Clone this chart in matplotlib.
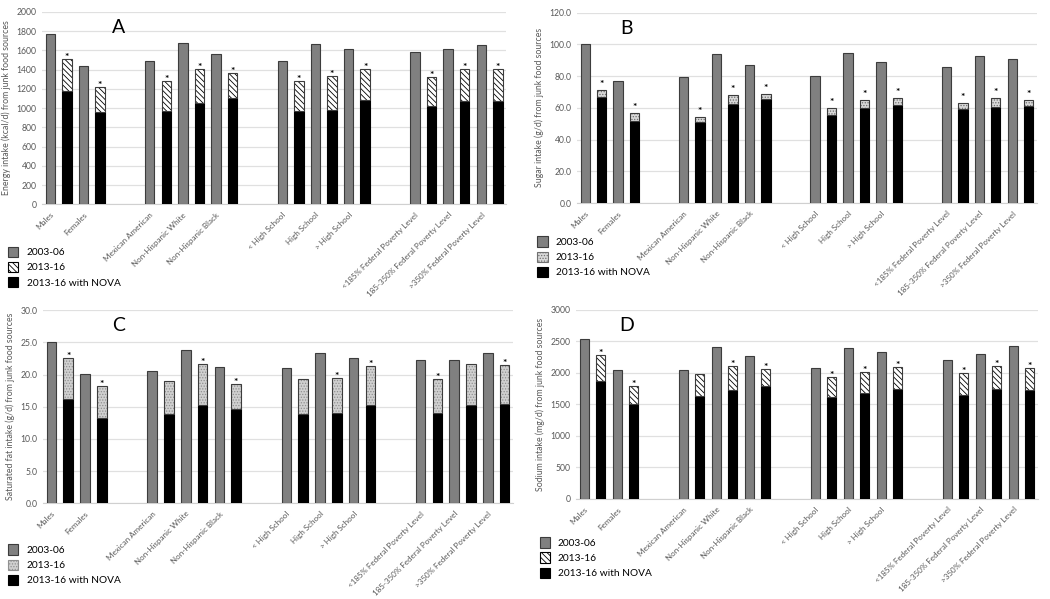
import numpy as np
import matplotlib
matplotlib.use("Agg")
import matplotlib.pyplot as plt
from matplotlib.patches import Patch

plt.rcParams['font.family'] = ['Lato', 'DejaVu Sans']
plt.rcParams['hatch.linewidth'] = 0.6

categories = ["Males", "Females",
              "Mexican American", "Non-Hispanic White", "Non-Hispanic Black",
              "< High School", "High School", "> High School",
              "<185% Federal Poverty Level", "185-350% Federal Poverty Level", ">350% Federal Poverty Level"]
group_sizes = [2, 3, 3, 3]

# panel A: energy (kcal/d)
energy_0306 = [1775, 1435, 1487, 1681, 1560, 1487, 1667, 1615, 1581, 1615, 1653]
energy_1316 = [1508, 1220, 1286, 1407, 1366, 1279, 1334, 1407, 1328, 1407, 1404]
energy_nova = [1175, 957, 970, 1057, 1106, 967, 977, 1081, 1019, 1075, 1078]
energy_sig = [1, 1, 1, 1, 1, 1, 1, 1, 1, 1, 1]

# panel B: sugar (g/d)
sugar_0306 = [100.2, 77.2, 79.7, 93.6, 87.1, 80.1, 94.8, 88.9, 85.6, 92.5, 90.8]
sugar_1316 = [71.5, 56.6, 54.3, 67.8, 68.4, 60.0, 65.0, 65.9, 62.9, 66.3, 65.2]
sugar_nova = [67.1, 52.0, 51.2, 62.1, 65.4, 55.4, 60.2, 61.5, 59.2, 60.4, 61.0]
sugar_sig = [1, 1, 1, 1, 1, 1, 1, 1, 1, 1, 1]

# panel C: saturated fat (g/d)
satfat_0306 = [25.0, 20.1, 20.5, 23.9, 21.2, 21.0, 23.4, 22.6, 22.3, 22.3, 23.3]
satfat_1316 = [22.6, 18.2, 19.0, 21.7, 18.5, 19.3, 19.5, 21.3, 19.3, 21.6, 21.5]
satfat_nova = [16.2, 13.3, 13.8, 15.3, 14.7, 13.9, 14.0, 15.3, 14.1, 15.3, 15.5]
satfat_sig = [1, 1, 0, 1, 1, 0, 1, 1, 1, 0, 1]

# panel D: sodium (mg/d)
sodium_0306 = [2540, 2044, 2044, 2419, 2276, 2076, 2393, 2335, 2213, 2308, 2435]
sodium_1316 = [2282, 1790, 1981, 2107, 2060, 1933, 2018, 2102, 2002, 2113, 2081]
sodium_nova = [1880, 1500, 1627, 1727, 1801, 1611, 1680, 1738, 1658, 1748, 1727]
sodium_sig = [1, 1, 0, 1, 1, 1, 1, 1, 1, 1, 1]

# bar slots: each category takes two slots (old bar, new bar), 2 empty slots between groups
pos = []
start = 0
for n in group_sizes:
    for k in range(n):
        pos.append(start + 2 * k)
    start += 2 * n + 2
pos = np.array(pos)

GRAY = "#808080"
EDGE = "#3c3c3c"
TXT = "#595959"

panels = [
    dict(letter="A", old=energy_0306, new=energy_1316, nova=energy_nova, sig=energy_sig,
         ymax=2000, step=200, fmt="{:.0f}", ylabel="Energy intake (kcal/d) from junk food sources",
         rect=[0.040, 0.659, 0.442, 0.321], hatch="\\\\\\\\\\\\", face="white", hcol="black",
         letter_xy=(0.164, 0.917), star_off=1.0, leg=(0.004, 0.595)),
    dict(letter="B", old=sugar_0306, new=sugar_1316, nova=sugar_nova, sig=sugar_sig,
         ymax=120, step=20, fmt="{:.1f}", ylabel="Sugar intake (g/d) from junk food sources",
         rect=[0.5495, 0.661, 0.438, 0.318], hatch="......", face="#d9d9d9", hcol="#707070",
         letter_xy=(0.107, 0.918), star_off=4.0, leg=(0.508, 0.612)),
    dict(letter="C", old=satfat_0306, new=satfat_1316, nova=satfat_nova, sig=satfat_sig,
         ymax=30, step=5, fmt="{:.1f}", ylabel="Saturated fat intake (g/d) from junk food sources",
         rect=[0.041, 0.160, 0.4476, 0.322], hatch="......", face="#d0d0d0", hcol="#909090",
         letter_xy=(0.16, 0.923), star_off=1.0, leg=(0.004, 0.098)),
    dict(letter="D", old=sodium_0306, new=sodium_1316, nova=sodium_nova, sig=sodium_sig,
         ymax=3000, step=500, fmt="{:.0f}", ylabel="Sodium intake (mg/d) from junk food sources",
         rect=[0.5486, 0.167, 0.44, 0.3155], hatch="\\\\\\\\\\\\", face="white", hcol="black",
         letter_xy=(0.11, 0.92), star_off=1.0, leg=(0.51, 0.110)),
]

fig = plt.figure(figsize=(10.5, 5.99), dpi=100)

w = 0.57
for p in panels:
    ax = fig.add_axes(p["rect"])
    old = np.array(p["old"], dtype=float)
    new = np.array(p["new"], dtype=float)
    nova = np.array(p["nova"], dtype=float)

    ax.bar(pos, old, w, color=GRAY, edgecolor=EDGE, linewidth=0.8, zorder=3)
    ax.bar(pos + 1, nova, w, color="black", edgecolor="black", linewidth=0.8, zorder=3)
    ax.bar(pos + 1, new - nova, w, bottom=nova, color=p["face"], edgecolor=p["hcol"],
           hatch=p["hatch"], linewidth=0, zorder=3)
    ax.bar(pos + 1, new - nova, w, bottom=nova, color="none", edgecolor=EDGE,
           linewidth=0.8, zorder=4)

    for x, y, s in zip(pos + 1, new, p["sig"]):
        if s:
            ax.annotate("*", xy=(x, y), xytext=(0, p["star_off"]), textcoords="offset points",
                        ha="center", va="center", fontsize=7.5, fontweight="bold", color="black", zorder=5)

    ax.set_ylim(0, p["ymax"])
    ax.set_xlim(-0.5, pos[-1] + 1.5)
    yt = np.arange(0, p["ymax"] + p["step"] / 2, p["step"])
    ax.set_yticks(yt)
    ax.set_yticklabels([p["fmt"].format(v) for v in yt], fontsize=6.2, color=TXT)
    ax.yaxis.grid(True, color="#e0e0e0", linewidth=0.9, zorder=0)
    ax.set_axisbelow(True)
    for s in ["top", "right", "left"]:
        ax.spines[s].set_visible(False)
    ax.spines["bottom"].set_color("#d0d0d0")
    ax.tick_params(axis="both", length=0, pad=4)
    ax.set_ylabel(p["ylabel"], fontsize=6.3, color=TXT, labelpad=4)

    ax.set_xticks(pos)
    ax.set_xticklabels(categories, rotation=45, ha="right", rotation_mode="anchor",
                       fontsize=5.8, color=TXT)
    ax.tick_params(axis="x", pad=5)

    ax.text(p["letter_xy"][0], p["letter_xy"][1], p["letter"], transform=ax.transAxes,
            fontsize=14, ha="center", va="center", color="black")

    handles = [
        Patch(facecolor=GRAY, edgecolor=EDGE, linewidth=0.8),
        Patch(facecolor=p["face"], edgecolor=p["hcol"], hatch=p["hatch"], linewidth=0.8),
        Patch(facecolor="black", edgecolor="black", linewidth=0.8),
    ]
    fig.legend(handles, ["2003-06", "2013-16", "2013-16 with NOVA"], loc="upper left",
               bbox_to_anchor=p["leg"], frameon=False, fontsize=7.3,
               handlelength=1.0, handleheight=1.2, handletextpad=0.8, labelspacing=0.45,
               borderaxespad=0)

fig.savefig("out.png", dpi=100)
